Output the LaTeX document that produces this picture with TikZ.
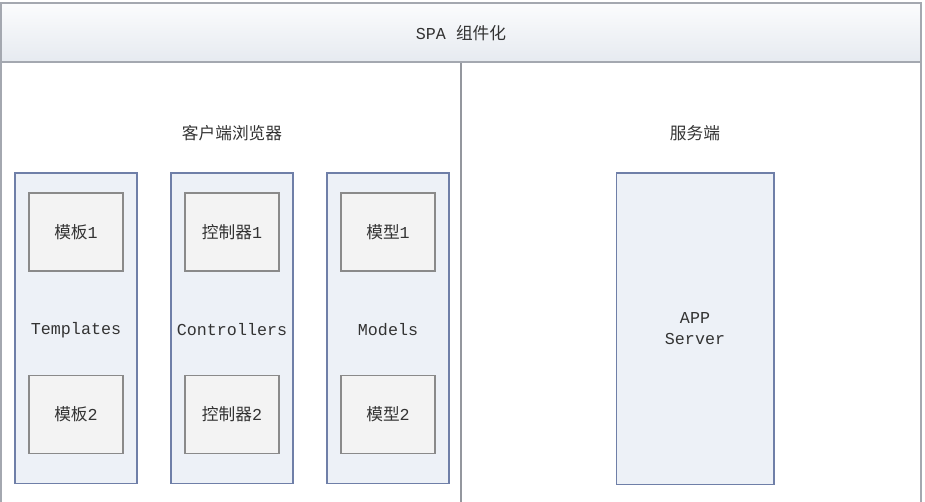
\documentclass[tikz,border=0pt]{standalone}
\usepackage{fontspec}
\setmainfont{Liberation Mono}
\newfontfamily\cjk{Noto Sans CJK SC}
\usetikzlibrary{shadows}

\definecolor{frameline}{HTML}{A4A8B0}
\definecolor{colline}{HTML}{6F7FA8}
\definecolor{colfill}{HTML}{EDF1F7}
\definecolor{itemline}{HTML}{8A8A8A}
\definecolor{itemfill}{HTML}{F3F3F3}
\definecolor{headtop}{HTML}{FBFCFD}
\definecolor{headbot}{HTML}{E6EAF0}

\begin{document}
\begin{tikzpicture}[x=0.02cm, y=-0.02cm, font=\fontsize{9.5}{12}\selectfont, text=black!80,
    colbox/.style={draw=colline, fill=colfill, line width=0.6pt, minimum width=2.44cm, minimum height=6.22cm, inner sep=0pt},
    itembox/.style={draw=itemline, fill=itemfill, line width=0.6pt, minimum width=1.88cm, minimum height=1.56cm, inner sep=0pt,
        drop shadow={shadow xshift=0.5pt, shadow yshift=-0.5pt, opacity=0.25}},
    title/.style={inner sep=1pt}]
    \useasboundingbox (0,0) rectangle (925,502);

    % Frame
    \draw[frameline, line width=0.6pt] (1,62) -- (1,502);
    \draw[frameline, line width=0.6pt] (921,62) -- (921,502);
    \draw[frameline!90!black, line width=0.6pt] (461,62) -- (461,502);
    \draw[frameline, line width=0.7pt, top color=headtop, bottom color=headbot] (1,3) rectangle (921,62);
    \node[title] (head) at (461,33) {SPA {\cjk 组件化}};

    % Client side
    \node[title] (client) at (232,133) {\cjk 客户端浏览器};

    \node[colbox] (tpl) at (76,328.5) {};
    \node[colbox] (ctl) at (232,328.5) {};
    \node[colbox] (mdl) at (388,328.5) {};

    \node[itembox] (tpl1) at (76,232) {{\cjk 模板}1};
    \node[title] (tplname) at (76,330) {Templates};
    \node[itembox] (tpl2) at (76,414.5) {{\cjk 模板}2};

    \node[itembox] (ctl1) at (232,232) {{\cjk 控制器}1};
    \node[title] (ctlname) at (232,330) {Controllers};
    \node[itembox] (ctl2) at (232,414.5) {{\cjk 控制器}2};

    \node[itembox] (mdl1) at (388,232) {{\cjk 模型}1};
    \node[title] (mdlname) at (388,330) {Models};
    \node[itembox] (mdl2) at (388,414.5) {{\cjk 模型}2};

    % Server side
    \node[title] (server) at (695,133) {\cjk 服务端};
    \node[colbox, minimum width=3.16cm, minimum height=6.24cm, align=center] (app) at (695,329) {APP\\Server};
\end{tikzpicture}
\end{document}
